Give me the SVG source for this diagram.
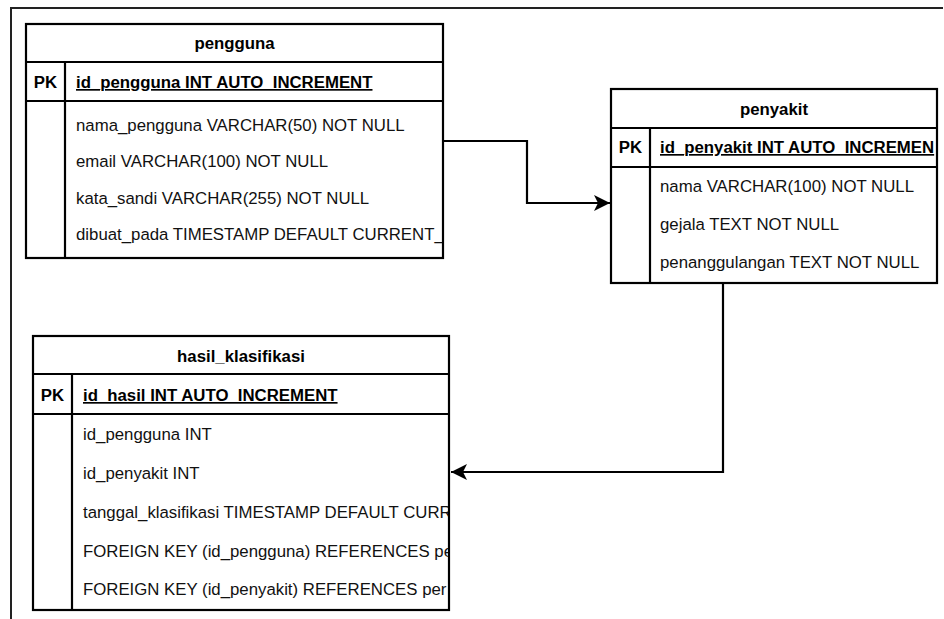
<svg xmlns="http://www.w3.org/2000/svg" width="944" height="619" viewBox="0 0 944 619">
  <style>
    .frame { fill: none; stroke: #222; stroke-width: 2; }
    .tbl { fill: #fff; stroke: #000; stroke-width: 2.2; }
    .sep { stroke: #000; stroke-width: 2.2; }
    .title { font-family: "Liberation Sans", Arial, sans-serif; font-size: 16.8px; font-weight: bold; fill: #000; text-anchor: middle; }
    .pk { font-family: "Liberation Sans", Arial, sans-serif; font-size: 16.8px; font-weight: bold; fill: #000; text-anchor: middle; }
    .key { font-family: "Liberation Sans", Arial, sans-serif; font-size: 16.8px; font-weight: bold; fill: #000; text-decoration: underline; }
    .attr { font-family: "Liberation Sans", Arial, sans-serif; font-size: 16.8px; fill: #111; }
    .edge { fill: none; stroke: #000; stroke-width: 2.2; }
  </style>
  <defs>
    <marker id="arrow" markerUnits="userSpaceOnUse" markerWidth="18" markerHeight="18" refX="16" refY="8" orient="auto" overflow="visible">
      <path d="M0,0 L16,8 L0,16 L4,8 Z" fill="#000"/>
    </marker>
    <clipPath id="clip-pengguna"><rect x="66" y="62" width="376" height="196"/></clipPath>
    <clipPath id="clip-penyakit"><rect x="651" y="128" width="285" height="155"/></clipPath>
    <clipPath id="clip-hasil"><rect x="73" y="374" width="375" height="236"/></clipPath>
  </defs>

  <!-- page frame -->
  <path class="frame" d="M11,619 V8 H943"/>

  <!-- table: pengguna -->
  <g id="pengguna">
    <rect class="tbl" x="26" y="24" width="417" height="234"/>
    <line class="sep" x1="26" y1="62" x2="443" y2="62"/>
    <line class="sep" x1="26" y1="101" x2="443" y2="101"/>
    <line class="sep" x1="65" y1="62" x2="65" y2="258"/>
    <text class="title" x="234.5" y="49">pengguna</text>
    <text class="pk" x="45.5" y="88">PK</text>
    <g clip-path="url(#clip-pengguna)">
      <text class="key" x="76" y="88">id_pengguna INT AUTO_INCREMENT</text>
      <text class="attr" x="76" y="131">nama_pengguna VARCHAR(50) NOT NULL</text>
      <text class="attr" x="76" y="167">email VARCHAR(100) NOT NULL</text>
      <text class="attr" x="76" y="204">kata_sandi VARCHAR(255) NOT NULL</text>
      <text class="attr" x="76" y="240">dibuat_pada TIMESTAMP DEFAULT CURRENT_</text>
    </g>
  </g>

  <!-- table: penyakit -->
  <g id="penyakit">
    <rect class="tbl" x="611" y="89" width="326" height="194"/>
    <line class="sep" x1="611" y1="128" x2="937" y2="128"/>
    <line class="sep" x1="611" y1="167" x2="937" y2="167"/>
    <line class="sep" x1="650" y1="128" x2="650" y2="283"/>
    <text class="title" x="774" y="115">penyakit</text>
    <text class="pk" x="630.5" y="153">PK</text>
    <g clip-path="url(#clip-penyakit)">
      <text class="key" x="660" y="153">id_penyakit INT AUTO_INCREMEN</text>
      <text class="attr" x="660" y="192">nama VARCHAR(100) NOT NULL</text>
      <text class="attr" x="660" y="230">gejala TEXT NOT NULL</text>
      <text class="attr" x="660" y="268">penanggulangan TEXT NOT NULL</text>
    </g>
  </g>

  <!-- table: hasil_klasifikasi -->
  <g id="hasil_klasifikasi">
    <rect class="tbl" x="33" y="336" width="416" height="274"/>
    <line class="sep" x1="33" y1="374" x2="449" y2="374"/>
    <line class="sep" x1="33" y1="414" x2="449" y2="414"/>
    <line class="sep" x1="72" y1="374" x2="72" y2="610"/>
    <text class="title" x="241" y="362">hasil_klasifikasi</text>
    <text class="pk" x="52.5" y="401">PK</text>
    <g clip-path="url(#clip-hasil)">
      <text class="key" x="83" y="401">id_hasil INT AUTO_INCREMENT</text>
      <text class="attr" x="83" y="440">id_pengguna INT</text>
      <text class="attr" x="83" y="479">id_penyakit INT</text>
      <text class="attr" x="83" y="518">tanggal_klasifikasi TIMESTAMP DEFAULT CURR</text>
      <text class="attr" x="83" y="557">FOREIGN KEY (id_pengguna) REFERENCES pe</text>
      <text class="attr" x="83" y="595">FOREIGN KEY (id_penyakit) REFERENCES per</text>
    </g>
  </g>

  <!-- relationships -->
  <g id="connectors">
    <path class="edge" d="M443,141 H527 V203 H610" marker-end="url(#arrow)"/>
    <path class="edge" d="M723,283 V472 H451" marker-end="url(#arrow)"/>
  </g>
</svg>
